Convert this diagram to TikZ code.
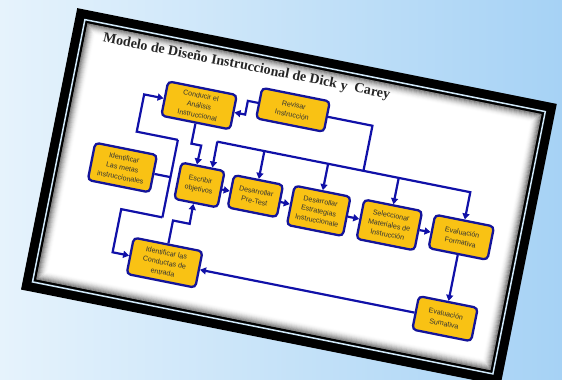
\documentclass[tikz,border=0pt]{standalone}
\usepackage{fontspec}
\setmainfont{Liberation Serif}
\setsansfont{Liberation Sans}
\usetikzlibrary{arrows.meta,calc}
\definecolor{fondoA}{HTML}{E6F3FC}
\definecolor{fondoB}{HTML}{A6D2F5}
\definecolor{oro}{HTML}{F9C214}
\definecolor{azul}{HTML}{14149A}
\definecolor{azulL}{HTML}{1010A8}
\definecolor{filete}{HTML}{CFE8F9}
\begin{document}
\begin{tikzpicture}[x=1pt,y=1pt,
  caja/.style={draw=azul,line width=2.3pt,fill=oro,rounded corners=4pt,align=center,
    font=\sffamily\fontsize{7.1}{9.9}\selectfont,text=black!80,inner sep=1pt},
  trazo/.style={draw=azulL,line width=2.2pt},
  flecha/.style={trazo,-{Triangle[length=6pt,width=7pt]}}]
\def\marco{(-244.5,-143.5) rectangle (244.5,143.5)}

\useasboundingbox (0,0) rectangle (562,380);
\clip (0,0) rectangle (562,380);
\shade[left color=fondoA,right color=fondoB] (0,0) rectangle (562,380);

\begin{scope}[shift={(288.9,183.25)},rotate=-11.3,transform shape]
  % marco
  \fill[black] \marco;
  \draw[filete,line width=1.5pt] (-234.75,-133.75) rectangle (234.75,133.75);
  \fill[white] (-231.5,-130.5) rectangle (231.5,130.5);
  \foreach \i in {0,...,9}{
    \pgfmathsetmacro\op{0.45*(1-\i/10)^2}
    \draw[black,opacity=\op,line width=1.1pt] (-231+\i,-130+\i) rectangle (231-\i,130-\i);
  }

  \node[font=\bfseries\fontsize{14}{16}\selectfont,text=black!85] (titulo) at (-67,119)
    {Modelo de Diseño Instruccional de Dick y\ \ Carey};

  \node[caja,minimum width=70pt,minimum height=35pt] (A) at (-106,72) {Conducir el\\Análisis\\Instruccional};
  \node[caja,minimum width=69pt,minimum height=31pt] (B) at (-13,86) {Revisar\\Instrucción};
  \node[caja,minimum width=63pt,minimum height=38pt] (C) at (-169,-4) {Identificar\\Las metas\\instruccionales};
  \node[caja,minimum width=44pt,minimum height=37pt] (D) at (-90,-6) {Escribir\\objetivos};
  \node[caja,minimum width=50pt,minimum height=33pt] (E) at (-33,-6) {Desarrollar\\Pre-Test};
  \node[caja,minimum width=57pt,minimum height=40pt] (F) at (32,-8) {Desarrollar\\Estrategias\\Instruccionale};
  \node[caja,minimum width=59pt,minimum height=40pt] (G) at (104,-8) {Seleccionar\\Materiales de\\Instrucción};
  \node[caja,minimum width=60pt,minimum height=34pt] (H) at (177,-6) {Evaluación\\Formativa};
  \node[caja,minimum width=60pt,minimum height=34pt] (I) at (177,-89) {Evaluación\\Sumativa};
  \node[caja,minimum width=70pt,minimum height=37pt] (J) at (-109,-89) {Identificar las\\Conductas de\\entrada};

  % fila principal
  \draw[flecha] (D) -- (E);
  \draw[flecha] (E) -- (F);
  \draw[flecha] (F) -- (G);
  \draw[flecha] (G) -- (H);
  \draw[flecha] (H) -- (I);
  \draw[flecha] (I) -- (J);

  % metas hacia analisis y conductas
  \draw[trazo] (C) -- (-120,-4);
  \draw[trazo] (-120,34) -- (-120,-45);
  \draw[flecha] (-120,34) -- (-162,34) -- (-162,72) -- (A);
  \draw[flecha] (-120,-45) -- (-162,-45) -- (-162,-89) -- (J);
  \draw[flecha] (A.south) -- (-106,33) -- (-96,33) -- ($(D.north west)!.36!(D.north east)$);
  \draw[flecha] (J.north) -- (-109,-46) -- (-92,-46) -- ($(D.south west)!.45!(D.south east)$);

  % revisar
  \draw[flecha] (B.west) -- (-59,86) -- (-59,72) -- (A);
  \draw[trazo] (B.east) -- (68,86) -- (68,40);
  \coordinate (bus) at (-81,40);
  \draw[flecha] (bus) -- ($(D.north west)!.7!(D.north east)$);
  \draw[flecha] (bus) -- (177,40) -- (H);
  \foreach \n/\x in {E/-33,F/32,G/104}
    \draw[flecha] (\x,40) -- (\n);
\end{scope}
\end{tikzpicture}
\end{document}
